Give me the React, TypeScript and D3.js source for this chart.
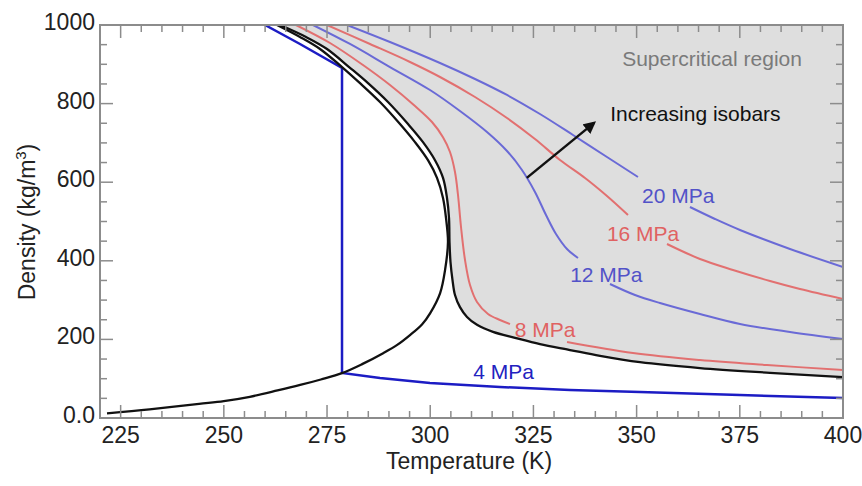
import React from "react";
import * as d3 from "d3";

const W = 862;
const H = 486;

const tempDomain: [number, number] = [220, 400];
const densityDomain: [number, number] = [0, 1000];
const xTickValues = [225, 250, 275, 300, 325, 350, 375, 400];
const xTickLabels = ["225", "250", "275", "300", "325", "350", "375", "400"];
const yTickValues = [0, 200, 400, 600, 800, 1000];
const yTickLabels = ["0.0", "200", "400", "600", "800", "1000"];
const xMinorStep = 5;
const yMinorStep = 50;

type P = [number, number];
type Pn = P | null;

// saturation dome: vapour branch up to the critical point, then liquid branch back up
const saturationDome: P[] = [
  [221.7, 12], [232, 22], [244, 36], [250, 43], [256.3, 54], [263, 70], [268.5, 84],
  [273.5, 98], [278.6, 114], [283.5, 137], [288.6, 165], [292, 186], [295.1, 211],
  [298, 238], [300, 267], [302.4, 318], [303.6, 377], [304.3, 448],
  [303.82, 509], [303.1, 560], [301.64, 611], [299.46, 656], [296.31, 702], [292.68, 748],
  [287.83, 804], [282.99, 852], [278.63, 893], [273.3, 939], [268.45, 969.5], [262.88, 1000],
];

// critical isobar (black)
const criticalIsobar: P[] = [
  [263.61, 1000], [269.91, 969.5], [274.99, 939], [280.57, 891], [284.93, 852],
  [289.77, 804], [294.62, 748], [298.25, 702], [301.16, 656], [303.1, 611],
  [304.06, 560], [304.55, 509], [304.67, 448], [304.91, 397], [305.4, 351],
  [306.0, 313], [307.21, 282], [308.91, 257], [311.33, 237], [315.2, 219],
  [320.54, 204], [326.59, 188], [333.86, 173], [341.13, 158], [350.82, 142],
  [365.35, 127], [382.31, 115], [400, 104],
];

const isobar4: P[] = [
  [259.97, 1000], [268.45, 951.7], [278.63, 890.6], [278.63, 114.5], [287.83, 101.8],
  [299.95, 89.1], [316.9, 78.9], [333.86, 71.2], [350.82, 66.2], [375.04, 58.5], [400, 50.9],
];

const isobar8: Pn[] = [
  [267.48, 1000], [275.72, 954.2], [283.71, 898.2], [290.25, 847.3], [296.31, 793.9],
  [300.43, 753.2], [303.09, 714.5], [304.79, 676.8], [306.0, 626], [306.73, 567.4],
  [307.46, 486], [308.43, 402], [309.64, 338.4], [311.33, 295.2], [314.0, 264.6],
  [316.9, 249.4], [319.33, 239.2], null,
  [333.14, 193.4], [349.12, 165.4], [365.35, 147.6], [381.58, 134.9], [400, 122.1],
];

const isobar12: Pn[] = [
  [271.6, 1000], [280.56, 951.7], [290.25, 893.1], [299.95, 834.6], [307.21, 781.2],
  [313.75, 727.7], [318.6, 679.4], [322.23, 631.0], [325.38, 575.1], [328.05, 516.5],
  [330.47, 468.2], [333.14, 430.0], [335.8, 407.1], null,
  [343.55, 341.0], [349.61, 313.0], [355.66, 292.6], [365.35, 264.6], [375.04, 239.2],
  [387.16, 218.8], [400, 201.0],
];

const isobar16: Pn[] = [
  [275.0, 1000], [285.41, 951.7], [295.1, 905.9], [302.37, 867.7], [310.85, 816.8],
  [318.6, 763.4], [325.38, 709.9], [331.44, 656.5], [337.5, 610.7], [342.82, 564.9],
  [347.91, 516.5], null,
  [357.36, 442.7], [365.35, 404.6], [373.35, 376.6], [382.31, 348.6], [389.58, 328.2],
  [400, 302.8],
];

const isobar20: Pn[] = [
  [279.84, 1000], [290.25, 956.7], [302.37, 903.3], [310.85, 862.6], [318.6, 821.9],
  [326.59, 773.5], [334.59, 720.1], [342.82, 664.1], [350.33, 613.2], null,
  [362.93, 536.9], [368.99, 506.4], [375.04, 478.4], [387.16, 430.0], [400, 384.2],
];

const isobarLabels = [
  { text: "20 MPa", t: 351.3, rho: 547, color: "#5252c8" },
  { text: "16 MPa", t: 342.8, rho: 450, color: "#e06262" },
  { text: "12 MPa", t: 333.9, rho: 346, color: "#5252c8" },
  { text: "8 MPa", t: 320.5, rho: 206, color: "#e06262" },
  { text: "4 MPa", t: 310.4, rho: 99, color: "#2222c0" },
];

const regionLabel = { text: "Supercritical region", t: 346.5, rho: 896 };
const arrowLabel = { text: "Increasing isobars", t: 343.6, rho: 756 };
const arrowFrom: P = [323.4, 611];
const arrowTo: P = [339.7, 751];

const FONT = "'Liberation Sans', Arial, Helvetica, sans-serif";

export default function App() {
  const x = d3.scaleLinear().domain(tempDomain).range([100, 843]);
  const y = d3.scaleLinear().domain(densityDomain).range([418, 25]);
  const [x0, x1] = x.range();
  const [y0, y1] = y.range();

  const smooth = d3
    .line<Pn>()
    .defined((d) => d !== null)
    .x((d) => x((d as P)[0]))
    .y((d) => y((d as P)[1]))
    .curve(d3.curveCatmullRom.alpha(0.5));
  const straight = d3
    .line<P>()
    .x((d) => x(d[0]))
    .y((d) => y(d[1]))
    .curve(d3.curveLinear);

  const regionPath =
    (smooth(criticalIsobar) || "") + `L${x(tempDomain[1])},${y(densityDomain[1])}Z`;

  const xMinor = d3.range(tempDomain[0] + xMinorStep, tempDomain[1], xMinorStep).filter(
    (v) => !xTickValues.includes(v)
  );
  const yMinor = d3.range(densityDomain[0] + yMinorStep, densityDomain[1], yMinorStep).filter(
    (v) => !yTickValues.includes(v)
  );

  const axisColor = "#8c8c8c";
  const majorLen = 13;
  const minorLen = 7;

  return (
    <svg
      width={W}
      height={H}
      style={{ position: "absolute", left: 0, top: 0, display: "block", background: "#fff" }}
      fontFamily={FONT}
    >
      <defs>
        <clipPath id="plot">
          <rect x={x0} y={y1} width={x1 - x0} height={y0 - y1} />
        </clipPath>
        <marker
          id="arrowhead"
          viewBox="0 0 10 10"
          refX="8"
          refY="5"
          markerWidth="5"
          markerHeight="5"
          orient="auto"
        >
          <path d="M0,0 L10,5 L0,10 Z" fill="#111" />
        </marker>
      </defs>

      <g clipPath="url(#plot)">
        <path d={regionPath} fill="#dedede" />
        <path d={smooth(isobar20) || ""} fill="none" stroke="#6a6ad6" strokeWidth={2} />
        <path d={smooth(isobar16) || ""} fill="none" stroke="#e27070" strokeWidth={2} />
        <path d={smooth(isobar12) || ""} fill="none" stroke="#6a6ad6" strokeWidth={2} />
        <path d={smooth(isobar8) || ""} fill="none" stroke="#e27070" strokeWidth={2} />
        <path d={straight(isobar4) || ""} fill="none" stroke="#1c1cc4" strokeWidth={2.5} />
        <path d={smooth(saturationDome) || ""} fill="none" stroke="#111" strokeWidth={2.3} />
        <path d={smooth(criticalIsobar) || ""} fill="none" stroke="#111" strokeWidth={2.3} />
      </g>

      {isobarLabels.map((l) => (
        <text key={l.text} x={x(l.t)} y={y(l.rho)} fontSize={21} fill={l.color}>
          {l.text}
        </text>
      ))}

      <text x={x(regionLabel.t)} y={y(regionLabel.rho)} fontSize={21} fill="#7a7a7a">
        {regionLabel.text}
      </text>
      <text x={x(arrowLabel.t)} y={y(arrowLabel.rho)} fontSize={21} fill="#111">
        {arrowLabel.text}
      </text>
      <line
        x1={x(arrowFrom[0])}
        y1={y(arrowFrom[1])}
        x2={x(arrowTo[0])}
        y2={y(arrowTo[1])}
        stroke="#111"
        strokeWidth={2.5}
        markerEnd="url(#arrowhead)"
      />

      {/* frame */}
      <rect x={x0} y={y1} width={x1 - x0} height={y0 - y1} fill="none" stroke={axisColor} strokeWidth={2} />

      {/* x ticks bottom & top */}
      {xTickValues.map((v) => (
        <g key={"xt" + v}>
          <line x1={x(v)} x2={x(v)} y1={y0} y2={y0 - majorLen} stroke={axisColor} strokeWidth={1.5} />
          <line x1={x(v)} x2={x(v)} y1={y1} y2={y1 + majorLen} stroke={axisColor} strokeWidth={1.5} />
        </g>
      ))}
      {xMinor.map((v) => (
        <g key={"xm" + v}>
          <line x1={x(v)} x2={x(v)} y1={y0} y2={y0 - minorLen} stroke={axisColor} strokeWidth={1.5} />
          <line x1={x(v)} x2={x(v)} y1={y1} y2={y1 + minorLen} stroke={axisColor} strokeWidth={1.5} />
        </g>
      ))}
      {/* y ticks left & right */}
      {yTickValues.map((v) => (
        <g key={"yt" + v}>
          <line x1={x0} x2={x0 + majorLen} y1={y(v)} y2={y(v)} stroke={axisColor} strokeWidth={1.5} />
          <line x1={x1} x2={x1 - majorLen} y1={y(v)} y2={y(v)} stroke={axisColor} strokeWidth={1.5} />
        </g>
      ))}
      {yMinor.map((v) => (
        <g key={"ym" + v}>
          <line x1={x0} x2={x0 + minorLen} y1={y(v)} y2={y(v)} stroke={axisColor} strokeWidth={1.5} />
          <line x1={x1} x2={x1 - minorLen} y1={y(v)} y2={y(v)} stroke={axisColor} strokeWidth={1.5} />
        </g>
      ))}

      {/* tick labels */}
      {xTickValues.map((v, i) => (
        <text key={"xl" + v} x={x(v)} y={443} fontSize={23} textAnchor="middle" fill="#222">
          {xTickLabels[i]}
        </text>
      ))}
      {yTickValues.map((v, i) => (
        <text key={"yl" + v} x={95} y={y(v) + 5} fontSize={23} textAnchor="end" fill="#222">
          {yTickLabels[i]}
        </text>
      ))}

      <text x={469} y={469} fontSize={23} textAnchor="middle" fill="#222">
        Temperature (K)
      </text>
      <text transform="translate(35,222) rotate(-90)" fontSize={23} textAnchor="middle" fill="#222">
        Density (kg/m
        <tspan fontSize={15} dy={-9}>3</tspan>
        <tspan dy={9}>)</tspan>
      </text>
    </svg>
  );
}
